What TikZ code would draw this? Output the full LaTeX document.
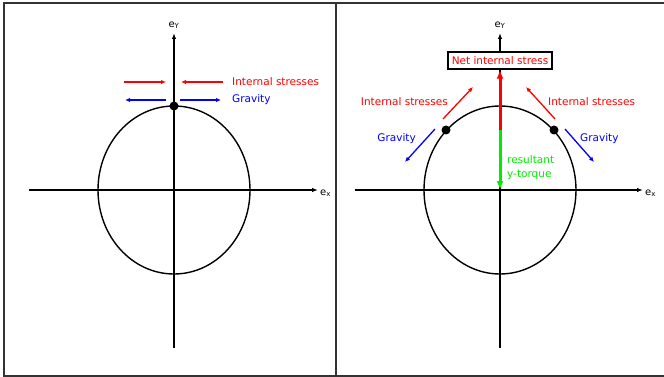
\documentclass[tikz,border=0pt]{standalone}
\usepackage{fontspec}
\setmainfont{DejaVu Sans}
\usetikzlibrary{arrows.meta,positioning}
\definecolor{stressRed}{RGB}{255,0,0}
\definecolor{gravBlue}{RGB}{0,0,255}
\definecolor{torqueGreen}{RGB}{0,235,0}
\tikzset{
  axisArrow/.style={-{Latex[length=6pt,width=4.5pt]}, line width=1.4pt},
  forceArrow/.style={-{Latex[length=5pt,width=4.5pt]}, line width=1.3pt},
  netArrow/.style={-{Latex[length=9pt,width=7pt]}, line width=3pt},
  forceLabel/.style={font=\fontsize{10.5}{14}\selectfont, inner sep=0pt},
  axisLabel/.style={font=\fontsize{10}{12}\selectfont, inner sep=0pt},
  massDot/.style={circle, fill=black, inner sep=0pt, minimum size=9pt},
  bodyLine/.style={line width=1.4pt}
}
\begin{document}
\begin{tikzpicture}[x=1pt, y=-1pt]
  \useasboundingbox (0,0) rectangle (664,377);
  % frame
  \draw[line width=1.5pt, black!80] (666,3) -- (4,3) -- (4,376) -- (666,376);
  \draw[line width=1.5pt, black!80] (336,3) -- (336,376);

  % left panel: point at the top
  \coordinate (lxStart) at (29,190);
  \coordinate (lxEnd) at (318,190);
  \coordinate (lyStart) at (174,348);
  \coordinate (lyEnd) at (174,33);
  \draw[axisArrow] (lxStart) -- (lxEnd);
  \draw[axisArrow] (lyStart) -- (lyEnd);
  \node[axisLabel, right=2pt of lxEnd, yshift=-3pt] (lex) {e\textsubscript{x}};
  \node[axisLabel, above=4pt of lyEnd] (ley) {e\textsubscript{Y}};
  \draw[bodyLine] (174,190) ellipse [x radius=76, y radius=84];
  \node[massDot] (topDot) at (174,106) {};

  \coordinate (lsA) at (124,82);  \coordinate (lsB) at (166,82);
  \coordinate (lsC) at (223,82);  \coordinate (lsD) at (181,82);
  \coordinate (lgA) at (166,100); \coordinate (lgB) at (125,100);
  \coordinate (lgC) at (180,100); \coordinate (lgD) at (221,100);
  \draw[forceArrow, stressRed] (lsA) -- (lsB);
  \draw[forceArrow, stressRed] (lsC) -- (lsD);
  \draw[forceArrow, gravBlue] (lgA) -- (lgB);
  \draw[forceArrow, gravBlue] (lgC) -- (lgD);
  \node[forceLabel, stressRed, anchor=west] (lStress) at (232,82) {Internal stresses};
  \node[forceLabel, gravBlue, anchor=west] (lGravity) at (232,100) {Gravity};

  % right panel: two points on the arc
  \coordinate (rxStart) at (355,190);
  \coordinate (rxEnd) at (643,190);
  \coordinate (ryStart) at (500,348);
  \coordinate (ryEnd) at (500,33);
  \draw[axisArrow] (rxStart) -- (rxEnd);
  \draw[axisArrow] (ryStart) -- (ryEnd);
  \node[axisLabel, right=2pt of rxEnd, yshift=-3pt] (rex) {e\textsubscript{x}};
  \node[axisLabel, above=4pt of ryEnd] (rey) {e\textsubscript{Y}};
  \draw[bodyLine] (500,190) ellipse [x radius=76, y radius=84];
  \node[massDot] (leftDot) at (446,130) {};
  \node[massDot] (rightDot) at (554,130) {};

  \node[forceLabel, draw=black, line width=1.5pt, fill=white, text=stressRed, inner xsep=4pt, minimum height=17pt] (net) at (500,60.5) {Net internal stress};
  \coordinate (split) at (500,130);
  \coordinate (origin) at (500,190);
  \draw[netArrow, stressRed] (split) -- (net.south);
  \draw[netArrow, torqueGreen] (split) -- (origin);
  \node[forceLabel, torqueGreen, anchor=north west, align=left] (torque) at (507,155) {resultant\\y-torque};

  \coordinate (rsA) at (443,119); \coordinate (rsB) at (473,87);
  \coordinate (rsC) at (555,119); \coordinate (rsD) at (526,87);
  \coordinate (rgA) at (435,129); \coordinate (rgB) at (405,162);
  \coordinate (rgC) at (565,129); \coordinate (rgD) at (594,162);
  \draw[forceArrow, stressRed] (rsA) -- (rsB);
  \draw[forceArrow, stressRed] (rsC) -- (rsD);
  \draw[forceArrow, gravBlue] (rgA) -- (rgB);
  \draw[forceArrow, gravBlue] (rgC) -- (rgD);
  \node[forceLabel, stressRed, anchor=east] (rStressL) at (448,102) {Internal stresses};
  \node[forceLabel, stressRed, anchor=west] (rStressR) at (548,102) {Internal stresses};
  \node[forceLabel, gravBlue, anchor=east] (rGravityL) at (416,139) {Gravity};
  \node[forceLabel, gravBlue, anchor=west] (rGravityR) at (580,139) {Gravity};
\end{tikzpicture}
\end{document}
